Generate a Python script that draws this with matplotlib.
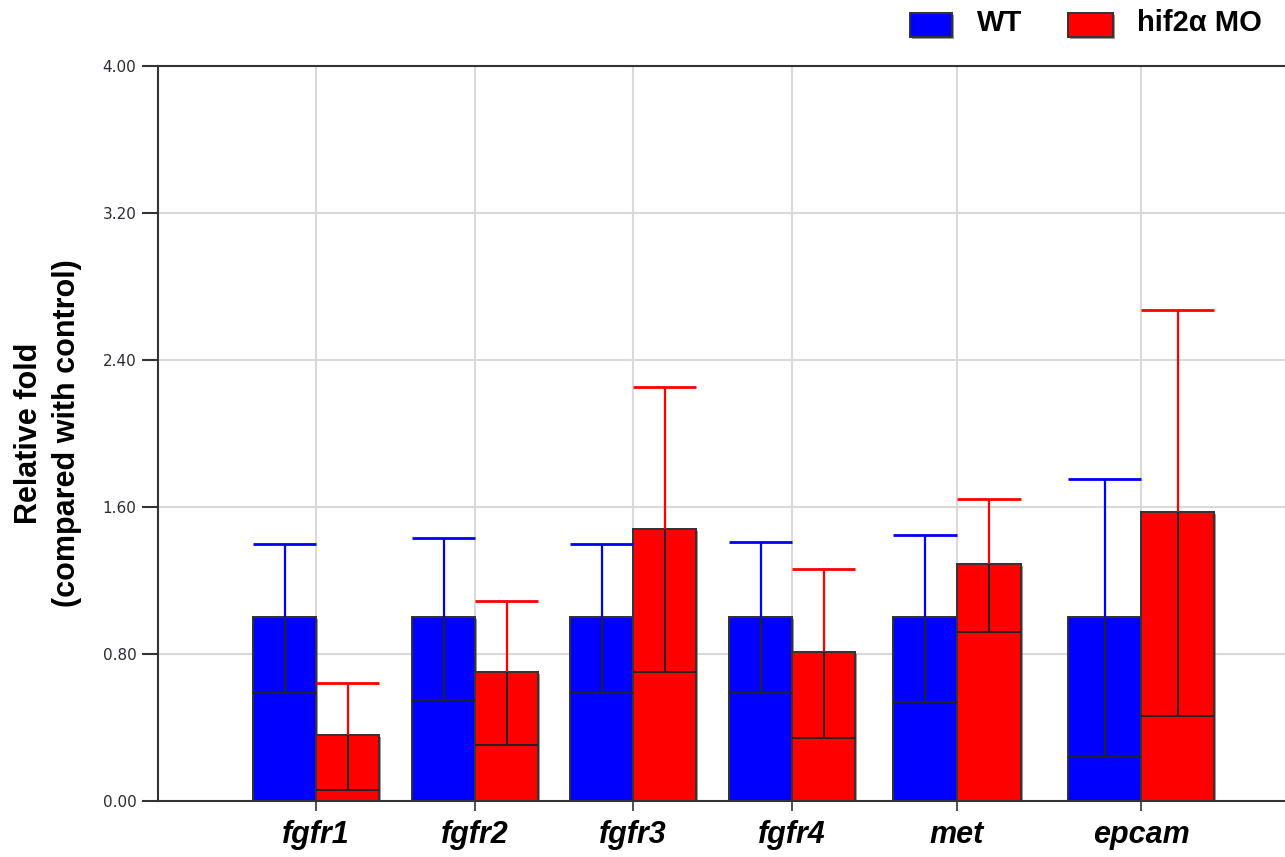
import matplotlib
matplotlib.use('Agg')
import matplotlib.pyplot as plt
from matplotlib.patches import Rectangle
import matplotlib.patheffects as pe

# ---------------- data ----------------
genes = ['fgfr1', 'fgfr2', 'fgfr3', 'fgfr4', 'met', 'epcam']
series = ['WT', 'hif2\u03b1 MO']
wt_mean = [1.00, 1.00, 1.00, 1.00, 1.00, 1.00]
wt_upper = [1.40, 1.43, 1.40, 1.41, 1.45, 1.75]
wt_lower = [0.59, 0.55, 0.59, 0.59, 0.54, 0.24]
mo_mean = [0.36, 0.70, 1.48, 0.81, 1.29, 1.575]
mo_upper = [0.64, 1.09, 2.255, 1.26, 1.645, 2.67]
mo_lower = [0.06, 0.305, 0.70, 0.345, 0.92, 0.46]
yticks = [0.0, 0.8, 1.6, 2.4, 3.2, 4.0]

# ---------------- layout ----------------
W, H = 1285, 857
group_centers = [316, 475, 633, 792, 957, 1141]
bar_widths = [63, 63, 63, 63, 64, 73]
x_range = (158, 1285)
colors = ['#0000ff', '#ff0000']
dark = '#222222'

fig = plt.figure(figsize=(W / 100, H / 100), dpi=100)
ax = fig.add_axes([158 / W, (H - 801) / H, (1285 - 158) / W, (801 - 66) / H])

shadow = [pe.withSimplePatchShadow(offset=(1.5, -1.5), shadow_rgbFace='#555555', alpha=0.6), pe.Normal()]

for k, (means, ups, lows) in enumerate([(wt_mean, wt_upper, wt_lower), (mo_mean, mo_upper, mo_lower)]):
    sign = -1 if k == 0 else 1
    xs = [c + sign * w / 2 for c, w in zip(group_centers, bar_widths)]
    bars = ax.bar(xs, means, width=bar_widths, color=colors[k], edgecolor='#333333',
                  linewidth=1.3, zorder=2)
    for b in bars:
        b.set_path_effects(shadow)
    for x, w, m, u, l in zip(xs, bar_widths, means, ups, lows):
        ax.vlines(x, m, u, color=colors[k], lw=1.6, zorder=3)
        ax.hlines(u, x - w / 2, x + w / 2, color=colors[k], lw=2.0, zorder=3)
        ax.vlines(x, l, m, color=dark, lw=1.4, zorder=3)
        ax.hlines(l, x - w / 2, x + w / 2, color=dark, lw=1.4, zorder=3)

ax.set_xlim(*x_range)
ax.set_ylim(0, 4.0)
ax.set_yticks(yticks)
ax.set_yticklabels(['%.2f' % v for v in yticks])
ax.set_xticks(group_centers)
ax.set_xticklabels(genes)

ax.set_axisbelow(True)
ax.grid(True, color='#d9d9d9', lw=1.5, zorder=0)

for s in ['right']:
    ax.spines[s].set_visible(False)
for s in ['left', 'bottom', 'top']:
    ax.spines[s].set_color('#333333')
    ax.spines[s].set_linewidth(1.5)
ax.spines['top'].set_zorder(1)

ax.tick_params(axis='y', length=11.5, width=1.5, color='#333333', labelsize=11,
               pad=4, labelcolor='#2a2a3a')
ax.tick_params(axis='x', length=7, width=1.2, color='#333333', labelsize=22, pad=7)
for lbl in ax.get_xticklabels():
    lbl.set_fontweight('bold')
    lbl.set_fontstyle('italic')
    lbl.set_family('Liberation Sans')
for lbl in ax.get_yticklabels():
    lbl.set_family('DejaVu Sans')

# y-axis label
fig.text(48 / W, 1 - 433 / H, 'Relative fold\n(compared with control)', rotation=90,
         ha='center', va='center', fontsize=22, fontweight='bold',
         family='Liberation Sans', linespacing=1.38, multialignment='center')

# legend (manual)
leg_boxes = [(910, 13, 42, 24), (1068, 13, 45, 24)]
leg_text_x = [977, 1137]
for (x, y, w, h), col, name, tx in zip(leg_boxes, colors, series, leg_text_x):
    r = Rectangle((x / W, 1 - (y + h) / H), w / W, h / H, transform=fig.transFigure,
                  facecolor=col, edgecolor='#333333', lw=1.3)
    r.set_path_effects(shadow)
    fig.add_artist(r)
    fig.text(tx / W, 1 - 23 / H, name, ha='left', va='center', fontsize=21,
             fontweight='bold', family=['Liberation Sans', 'DejaVu Sans'])

fig.savefig('out.png', dpi=100)
